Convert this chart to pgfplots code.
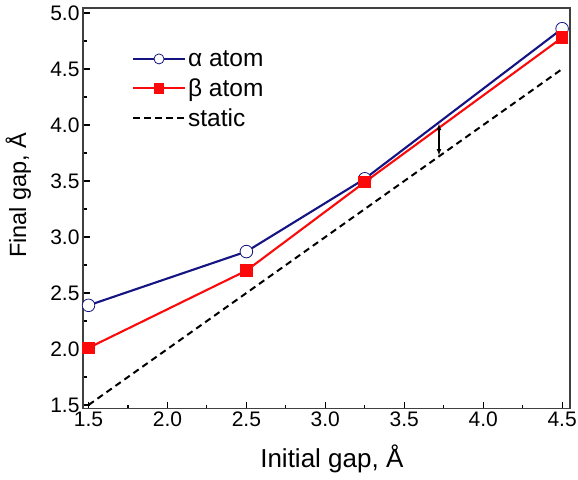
\documentclass[border=0pt]{standalone}
\usepackage{pgfplots}
\pgfplotsset{compat=1.18}
\usepackage{fontspec}
\setmainfont{Liberation Sans}
\definecolor{navyb}{RGB}{20,20,130}
\definecolor{redb}{RGB}{250,10,10}
\begin{document}
\begin{tikzpicture}[x=1pt,y=1pt]
\useasboundingbox (0,0) rectangle (578,479);
\begin{axis}[
  at={(83pt,70.3pt)}, anchor=south west,
  scale only axis, width=487pt, height=400.7pt,
  xmin=1.465, xmax=4.55, ymin=1.467, ymax=5.045,
  xtick={1.5,2.0,...,4.5}, ytick={1.5,2.0,...,5.0},
  minor x tick num=1, minor y tick num=1,
  xtick pos=left, ytick pos=left,
  tick align=inside,
  major tick length=7pt, minor tick length=4pt,
  every tick/.style={black, line width=1.1pt},
  axis line style={line width=1.5pt, black!75},
  xticklabel style={/pgf/number format/fixed, /pgf/number format/fixed zerofill, /pgf/number format/precision=1},
  yticklabel style={/pgf/number format/fixed, /pgf/number format/fixed zerofill, /pgf/number format/precision=1},
  /pgf/number format/assume math mode=true,
  tick label style={font=\fontsize{21}{25}\selectfont},
  xlabel={Initial gap, Å}, ylabel={Final gap, Å},
  xlabel style={font=\fontsize{26}{30}\selectfont, at={(axis description cs:0.511,-0.1455)}, anchor=base},
  ylabel style={font=\fontsize{23.5}{28}\selectfont, at={(axis description cs:-0.117,0.533)}, anchor=base},
  legend cell align=left,
  legend style={at={(0.094,0.905)}, anchor=north west, draw=none, fill=none,
    font=\fontsize{24.5}{29}\selectfont, row sep=7pt},
  legend image code/.code={\draw[mark repeat=2,mark phase=2, every mark/.append style={scale=0.8}] plot coordinates {(0pt,0pt) (26pt,0pt) (52pt,0pt)};},
]
\addplot[navyb, line width=2.1pt, mark=*, mark size=6.3pt, mark options={fill=white, draw=navyb, line width=0.8pt}] coordinates {(1.5,2.39) (2.5,2.87) (3.25,3.52) (4.5,4.86)};
\addlegendentry{α atom}
\addplot[redb, line width=2.1pt, mark=square*, mark size=5.3pt, mark options={fill=redb, draw=redb}] coordinates {(1.5,2.01) (2.5,2.70) (3.25,3.49) (4.5,4.78)};
\addlegendentry{β atom}
\addplot[black, line width=2pt, dash pattern=on 6.5pt off 4.5pt] coordinates {(1.5,1.5) (4.5,4.5)};
\addlegendentry{static}
\draw[<->, >=latex, line width=1.1pt] (axis cs:3.72,3.73) -- (axis cs:3.72,4.01);
\end{axis}
\end{tikzpicture}
\end{document}
